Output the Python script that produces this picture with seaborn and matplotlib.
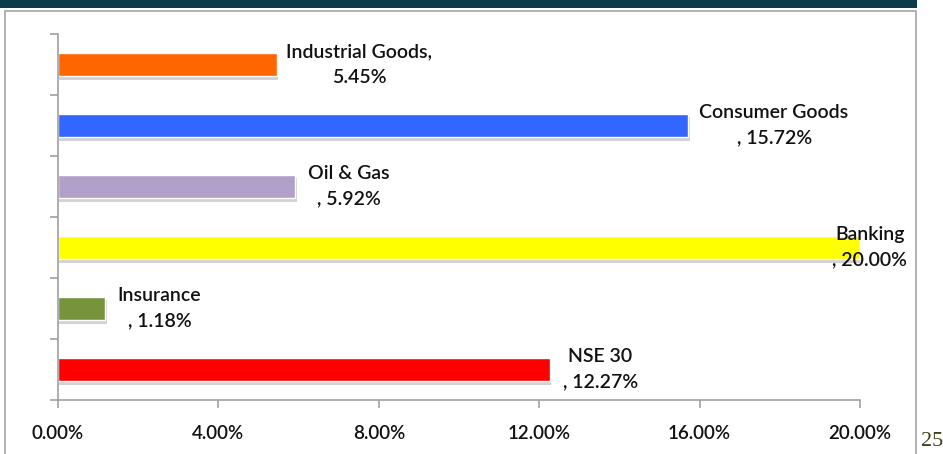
import matplotlib
matplotlib.use("Agg")
import matplotlib.pyplot as plt
import matplotlib.patheffects as pe
from matplotlib.patches import Rectangle
import seaborn as sns
import pandas as pd
import numpy as np

categories = ["Industrial Goods", "Consumer Goods", "Oil & Gas", "Banking", "Insurance", "NSE 30"]
values = [5.45, 15.72, 5.92, 20.00, 1.18, 12.27]
label_texts = ["Industrial Goods,\n5.45%", "Consumer Goods\n, 15.72%", "Oil & Gas\n, 5.92%",
               "Banking\n, 20.00%", "Insurance\n, 1.18%", "NSE 30\n, 12.27%"]
colors = ["#FF6600", "#3366FF", "#B1A0C7", "#FFFF00", "#77933C", "#FF0000"]
label_dx = [7, 8, 9, -20, 9, 9]  # points
xticks = [0, 4, 8, 12, 16, 20]
xtick_labels = ["0.00%", "4.00%", "8.00%", "12.00%", "16.00%", "20.00%"]
page_number = "25"

sns.set_theme(style="white")
plt.rcParams['font.family'] = ['Lato', 'DejaVu Sans']

fig = plt.figure(figsize=(9.43, 4.54), dpi=100)
# slide decorations
fig.patches.append(Rectangle((0, 1 - 8 / 454), 917 / 943, 8 / 454, transform=fig.transFigure,
                             facecolor="#0B3A48", edgecolor="none", zorder=0))
fig.patches.append(Rectangle((5 / 943, -0.1), 911 / 943, 1.1 - 11 / 454, transform=fig.transFigure,
                             facecolor="none", edgecolor="#A6A6A6", linewidth=1.2, zorder=0))
fig.text(921 / 943, 1 - 441 / 454, page_number, fontsize=16, color="#3F3F1A",
         family=["Liberation Serif", "DejaVu Serif"], ha="left", va="center")

ax = fig.add_axes([58 / 943, 1 - 400 / 454, (860 - 58) / 943, 366 / 454])
ax.set_facecolor("none")
df = pd.DataFrame({"cat": categories, "val": values})
sns.barplot(data=df, x="val", y="cat", hue="cat", palette=colors, order=categories,
            width=0.39, legend=False, ax=ax, saturation=1)
for p in ax.patches:
    p.set_path_effects([pe.SimplePatchShadow(offset=(1, -2.5), shadow_rgbFace="#909090", alpha=0.4),
                        pe.Normal()])

for i, (v, t, dx) in enumerate(zip(values, label_texts, label_dx)):
    ax.annotate(t, xy=(v, i), xytext=(dx, 0), textcoords="offset points",
                ha="left", va="center", multialignment="center", fontsize=14,
                fontweight="semibold", color="#111111", linespacing=1.6,
                annotation_clip=False)

ax.set_xlim(0, 20)
ax.set_ylim(5.5, -0.5)
ax.set_xticks(xticks)
ax.set_xticklabels(xtick_labels, fontsize=13.5, fontweight="semibold", color="#111111")
ax.set_yticks(np.arange(-0.5, 6, 1))
ax.set_yticklabels([])
ax.set_xlabel("")
ax.set_ylabel("")
for s in ["top", "right"]:
    ax.spines[s].set_visible(False)
for s in ["left", "bottom"]:
    ax.spines[s].set_color("#A0A0A0")
    ax.spines[s].set_linewidth(1.2)
ax.tick_params(axis="both", which="major", length=6, width=1.2, color="#A0A0A0",
               direction="out", left=True, bottom=True)
ax.tick_params(axis="x", pad=12)

fig.savefig("out.png", dpi=100)
